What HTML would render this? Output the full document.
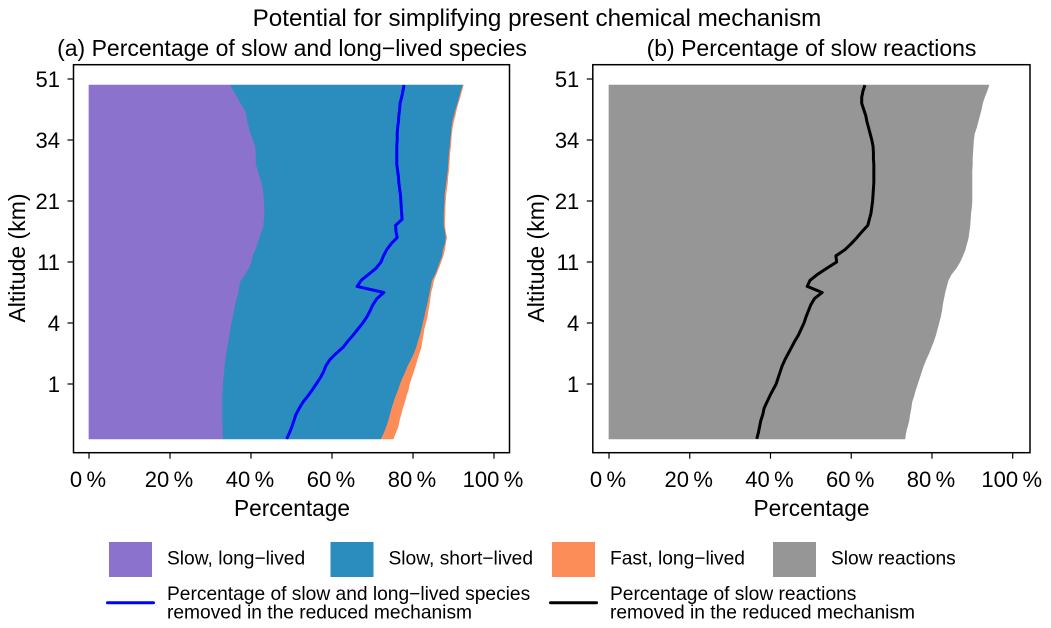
<!DOCTYPE html>
<html>
<head>
<meta charset="utf-8">
<title>Potential for simplifying present chemical mechanism</title>
<style>
html,body{margin:0;padding:0;background:#fff}
svg{display:block}
text{font-family:"Liberation Sans",sans-serif;fill:#000}
</style>
</head>
<body>
<svg id="chart" xmlns="http://www.w3.org/2000/svg" width="1051" height="628" viewBox="0 0 1051 628">
  <text x="537" y="26" font-size="24.2" text-anchor="middle">Potential for simplifying present chemical mechanism</text>
  <text x="292" y="56" font-size="23" text-anchor="middle">(a) Percentage of slow and long−lived species</text>
  <text x="811.5" y="56" font-size="23" text-anchor="middle">(b) Percentage of slow reactions</text>
  <text x="292" y="516" font-size="22.7" text-anchor="middle">Percentage</text>
  <text x="811.5" y="516" font-size="22.7" text-anchor="middle">Percentage</text>
  <text transform="translate(25 258) rotate(-90)" font-size="23" text-anchor="middle">Altitude (km)</text>
  <text transform="translate(544 258) rotate(-90)" font-size="23" text-anchor="middle">Altitude (km)</text>
  <g id="panel-a"></g>
  <g id="panel-b"></g>

  <g font-size="19.2">
    <rect x="109" y="542" width="43" height="35" fill="#8b72cd"/>
    <text x="167" y="564.5">Slow, long−lived</text>
    <rect x="330.5" y="542" width="43" height="35" fill="#2b8cbe"/>
    <text x="388.5" y="564.5">Slow, short−lived</text>
    <rect x="552" y="542" width="43" height="35" fill="#fc8d59"/>
    <text x="610" y="564.5">Fast, long−lived</text>
    <rect x="773" y="542" width="43" height="35" fill="#969696"/>
    <text x="831" y="564.5">Slow reactions</text>
    <line x1="107.5" y1="602.7" x2="153.5" y2="602.7" stroke="#0000ff" stroke-width="3" stroke-linecap="round"/>
    <text x="167" y="600">Percentage of slow and long−lived species</text>
    <text x="167" y="618.3">removed in the reduced mechanism</text>
    <line x1="550.5" y1="602.7" x2="596.5" y2="602.7" stroke="#000" stroke-width="3" stroke-linecap="round"/>
    <text x="610" y="600">Percentage of slow reactions</text>
    <text x="610" y="618.3">removed in the reduced mechanism</text>
  </g>
</svg>
<script>
// Model level for each row of the series below (bottom to top)
const levels = [1,2,3,4,5,6,7,8,9,10,11,12,13,14,15,16,17,18,19,20,21,22,23,24,25,26,27,28,29,30,31,32,33,34,35,36,37,38,39,40,41,42,43,44,45,46,47,48,49,50,51,52,53,54,55,56,57,58,59];
const altitudeTickLevels = [10,20,30,40,50,60];
const altitudeTickLabels = ['1','4','11','21','34','51'];
const percentTicks = [0,20,40,60,80,100];

// Panel (a): cumulative upper edge of each stacked band, in percent
const slowLongEdge = [33.0,32.9,32.9,32.8,32.8,32.8,32.8,32.8,32.9,33.0,
  33.1,33.3,33.4,33.6,33.8,34.1,34.3,34.6,34.8,35.1,
  35.4,35.7,36.0,36.4,36.8,37.0,37.4,38.5,39.4,40.0,
  40.3,41.0,41.5,42.0,42.5,43.0,43.1,43.2,43.2,43.1,
  43.0,42.8,42.5,42.0,41.6,41.1,41.1,41.1,40.9,40.4,
  39.8,39.4,39.0,38.8,38.3,37.3,36.5,35.6,34.8];
const slowShortEdge = [72.0,72.7,73.3,73.8,74.2,74.6,75.1,75.6,76.2,76.7,
  77.3,78.0,78.6,79.4,80.1,80.7,81.1,81.6,82.0,82.3,
  82.7,83.0,83.4,83.7,84.0,84.3,84.6,85.4,86.0,86.5,
  87.1,87.3,87.8,88.0,87.8,87.5,87.5,87.5,87.6,87.7,
  87.7,87.9,88.1,88.3,88.5,88.6,88.7,88.8,89.0,89.1,
  89.3,89.4,89.6,90.0,90.4,90.9,91.3,91.7,92.2];
const fastLongEdge = [75.1,75.7,76.3,76.6,77.0,77.4,77.9,78.3,78.8,79.1,
  79.6,80.1,80.6,81.0,81.5,82.0,82.2,82.5,82.7,83.1,
  83.5,83.7,84.0,84.2,84.4,84.8,85.1,85.7,86.3,86.9,
  87.4,87.8,88.0,88.3,88.0,87.8,87.8,87.9,87.9,88.0,
  88.1,88.3,88.5,88.6,88.8,88.9,89.0,89.1,89.3,89.4,
  89.5,89.7,90.0,90.4,90.7,91.1,91.6,92.0,92.4];
const speciesRemoved = [48.8,49.5,50.1,50.6,51.1,51.9,52.8,54.0,55.1,56.1,
  57.1,57.9,58.5,59.5,61.0,62.7,63.9,65.2,66.4,67.6,
  68.6,69.4,70.1,71.1,72.8,66.2,67.2,69.1,70.9,72.1,
  72.7,73.5,74.6,76.1,75.8,75.7,77.3,77.2,77.1,77.0,
  76.9,76.7,76.5,76.4,76.2,76.0,76.0,76.0,76.0,76.1,
  76.1,76.2,76.4,76.5,76.7,76.8,77.2,77.5,77.8];

// Panel (b)
const slowReactions = [73.3,73.5,73.9,74.3,74.5,74.8,75.0,75.5,75.9,76.4,
  76.9,77.4,77.9,78.5,79.2,79.8,80.4,80.9,81.3,81.7,
  82.1,82.4,82.6,82.9,83.2,83.6,84.0,84.8,86.0,86.9,
  87.6,88.2,88.6,89.0,89.2,89.4,89.5,89.6,89.8,89.9,
  89.9,89.9,89.9,89.9,89.9,90.0,90.0,90.1,90.2,90.3,
  90.5,91.0,91.4,91.8,92.2,92.5,93.0,93.6,94.1];
const reactionsRemoved = [36.6,37.0,37.3,37.6,38.1,38.4,39.1,39.8,40.6,41.4,
  41.9,42.4,42.9,43.6,44.4,45.2,46.0,46.9,47.6,48.3,
  48.8,49.4,50.0,50.9,52.8,49.1,49.8,51.7,54.0,56.4,
  56.2,58.4,60.0,61.4,62.7,64.1,64.5,64.9,65.1,65.3,
  65.4,65.5,65.6,65.6,65.6,65.6,65.5,65.5,65.4,65.1,
  64.7,64.3,63.9,63.6,63.1,62.6,62.6,62.9,63.4];

const NS = 'http://www.w3.org/2000/svg';
function mk(parent, tag, attrs, txt) {
  const el = document.createElementNS(NS, tag);
  for (const k in attrs) el.setAttribute(k, attrs[k]);
  if (txt !== undefined) el.textContent = txt;
  parent.appendChild(el);
  return el;
}
function yScale(level) { return 384 - (level - 10) * 6.1; }
function xScaleA(p) { return 89 + p * 4.05; }
function xScaleB(p) { return 609 + p * 4.037; }

function bandPoints(x, lower, upper) {
  const pts = [];
  levels.forEach(function (l, i) { pts.push(x(upper[i]).toFixed(2) + ',' + yScale(l).toFixed(2)); });
  for (let i = levels.length - 1; i >= 0; i--) {
    const lo = lower ? lower[i] : 0;
    pts.push(x(lo).toFixed(2) + ',' + yScale(levels[i]).toFixed(2));
  }
  return pts.join(' ');
}
function linePoints(x, values) {
  return levels.map(function (l, i) { return x(values[i]).toFixed(2) + ',' + yScale(l).toFixed(2); }).join(' ');
}
function drawBand(g, x, lower, upper, color, name) {
  const el = mk(g, 'polygon', { points: bandPoints(x, lower, upper), fill: color, stroke: color, 'stroke-width': 0.7, 'stroke-linejoin': 'round' });
  
  
}
function drawLine(g, x, values, color, name) {
  const el = mk(g, 'polyline', { points: linePoints(x, values), fill: 'none', stroke: color, 'stroke-width': 3, 'stroke-linejoin': 'round', 'stroke-linecap': 'butt' });
  
  
}
function drawAxes(g, x, left, right, top, bottom, prefix) {
  const frame = mk(g, 'rect', { x: left, y: top, width: right - left, height: bottom - top, fill: 'none', stroke: '#000', 'stroke-width': 1.5 });
  
  
  percentTicks.forEach(function (t) {
    const tick = mk(g, 'line', { x1: x(t), x2: x(t), y1: bottom, y2: bottom + 6, stroke: '#000', 'stroke-width': 1.2 });
    
    
    const label = mk(g, 'text', { x: x(t) - 1, y: 487, 'font-size': 22, 'text-anchor': 'middle' }, t + '\u2009%');
    
    
  });
  altitudeTickLevels.forEach(function (lv, i) {
    const y = yScale(lv);
    const tick = mk(g, 'line', { x1: left - 6, x2: left, y1: y, y2: y, stroke: '#000', 'stroke-width': 1.2 });
    
    
    const label = mk(g, 'text', { x: left - 13.5, y: y + 8, 'font-size': 22, 'text-anchor': 'end' }, altitudeTickLabels[i]);
    
    
  });
}

const panelA = document.getElementById('panel-a');
drawBand(panelA, xScaleA, slowShortEdge, fastLongEdge, '#fc8d59', 'area-fast-long-lived');
drawBand(panelA, xScaleA, slowLongEdge, slowShortEdge, '#2b8cbe', 'area-slow-short-lived');
drawBand(panelA, xScaleA, null, slowLongEdge, '#8b72cd', 'area-slow-long-lived');
drawLine(panelA, xScaleA, speciesRemoved, '#0000ff', 'line-species-removed');
drawAxes(panelA, xScaleA, 73.5, 509.5, 64.7, 452.7, 'panel-a');

const panelB = document.getElementById('panel-b');
drawBand(panelB, xScaleB, null, slowReactions, '#969696', 'area-slow-reactions');
drawLine(panelB, xScaleB, reactionsRemoved, '#000000', 'line-reactions-removed');
drawAxes(panelB, xScaleB, 592.8, 1030, 64.7, 452.7, 'panel-b');
</script>
</body>
</html>
